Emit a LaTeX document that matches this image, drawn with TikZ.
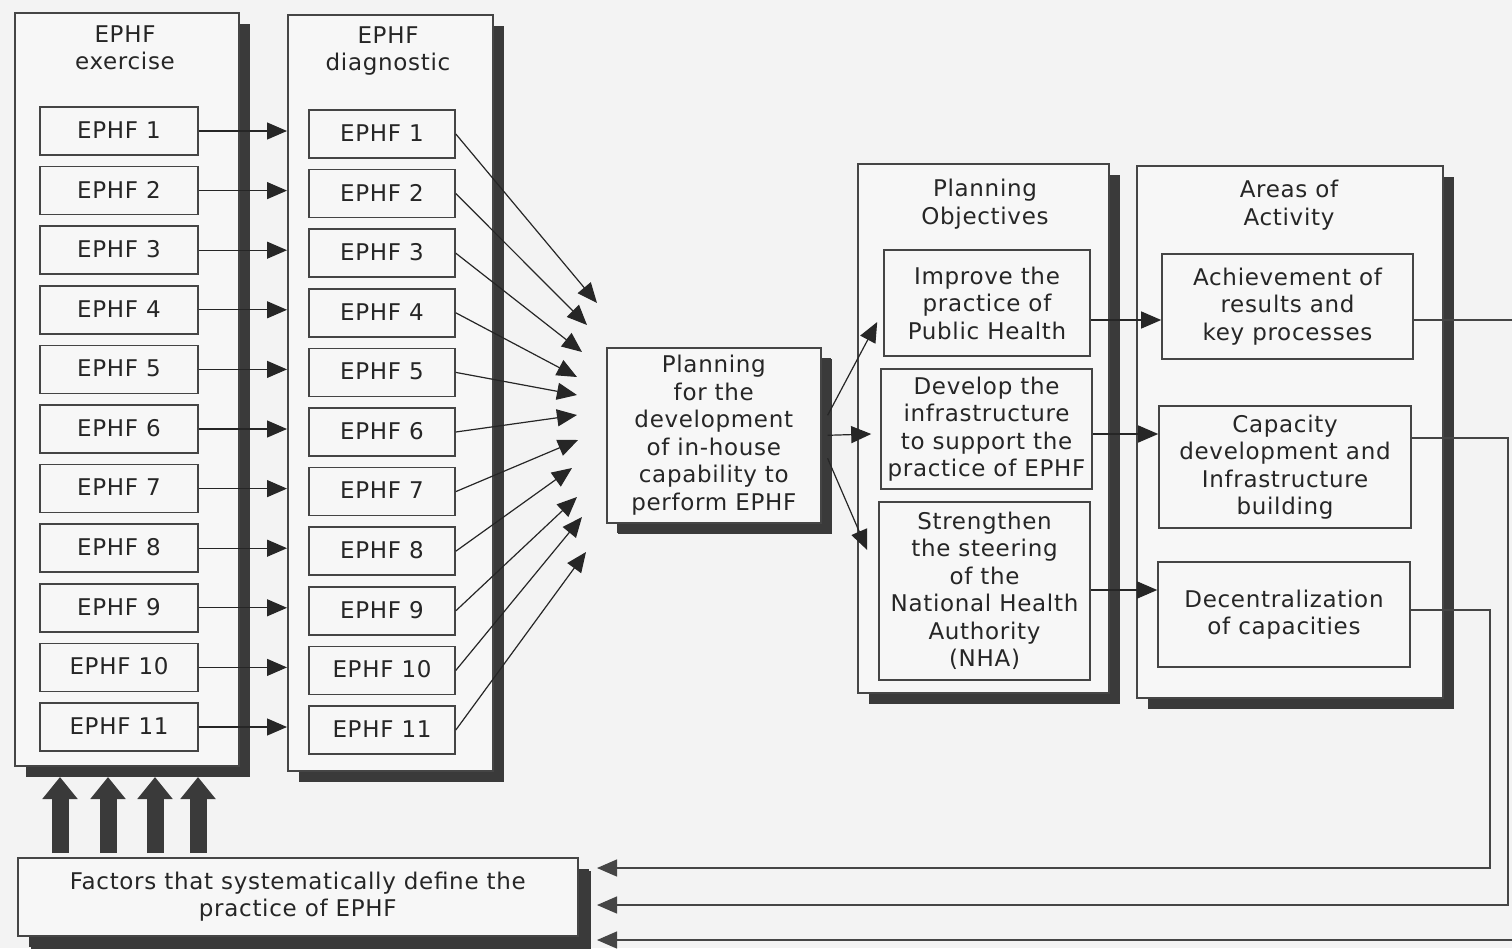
\documentclass[tikz,border=0pt]{standalone}
\usepackage{fontspec}
\setmainfont{DejaVu Sans}[LetterSpace=3]
\usetikzlibrary{arrows.meta,shadows,calc}
\definecolor{bg}{HTML}{F3F3F3}
\definecolor{boxfill}{HTML}{F7F7F7}
\definecolor{ink}{HTML}{262626}
\definecolor{edge}{HTML}{454545}
\definecolor{shade}{HTML}{3A3A3A}
\begin{document}
\begin{tikzpicture}[x=1pt,y=-1pt,
  every node/.style={font=\fontsize{23}{27.5}\selectfont, text=ink, align=center, inner sep=0pt},
  frame/.style={draw=edge, line width=1.6pt, fill=boxfill, anchor=north west,
    general shadow={fill=shade, shadow xshift=11pt, shadow yshift=-11pt}},
  box/.style={draw=edge, line width=1.6pt, fill=boxfill},
  conn/.style={draw=ink, line width=1.2pt, -{Triangle[length=20pt,width=17pt]}},
  fb/.style={draw=edge, line width=1.3pt, -{Triangle[length=20pt,width=17pt]}},
  bigarrow/.style={draw=shade, line width=17pt, -{Triangle[length=22pt,width=34pt]}}
]
\useasboundingbox (0,0) rectangle (1512,948);
\fill[bg] (0,0) rectangle (1512,948);

% frames
\node[frame, minimum width=224pt, minimum height=753pt] (exf) at (14,12) {};
\node[frame, minimum width=205pt, minimum height=756pt] (dgf) at (287,14) {};
\node[frame, minimum width=251pt, minimum height=529pt] (objf) at (857,163) {};
\node[frame, minimum width=306pt, minimum height=532pt] (aref) at (1136,165) {};
\node[frame, minimum width=214pt, minimum height=175pt, general shadow={fill=shade, shadow xshift=10pt, shadow yshift=-10pt}] (plan) at (606,347)
  {Planning\\for the\\development\\of in-house\\capability to\\perform EPHF};
\node[frame, minimum width=560pt, minimum height=78pt, general shadow={fill=shade, shadow xshift=13pt, shadow yshift=-13pt}] (fac) at (17,857)
  {Factors that systematically define the\\practice of EPHF};

% headers
\node (exh) at (125,48) {EPHF\\exercise};
\node (dgh) at (388,51) {EPHF\\diagnostic};
\node (objh) at (985,204) {Planning\\Objectives};
\node (areh) at (1289,205) {Areas of\\Activity};

% EPHF boxes
\foreach \i in {1,...,11} {
  \pgfmathsetmacro{\yy}{131+59.6*(\i-1)}
  \pgfmathsetmacro{\yd}{134+59.6*(\i-1)}
  \node[box, minimum width=158pt, minimum height=48pt] (ex\i) at (119,\yy) {\raisebox{2pt}{EPHF \i}};
  \node[box, minimum width=146pt, minimum height=48pt] (dg\i) at (382,\yd) {\raisebox{2pt}{EPHF \i}};
}

% objectives
\node[box, minimum width=206pt, minimum height=106pt] (imp) at (987,303) {Improve the\\practice of\\Public Health};
\node[box, minimum width=211pt, minimum height=120pt] (dev) at (986.5,429) {Develop the\\infrastructure\\to support the\\practice of EPHF};
\node[box, minimum width=211pt, minimum height=178pt] (str) at (984.5,591) {Strengthen\\the steering\\of the\\National Health\\Authority\\(NHA)};

% areas
\node[box, minimum width=251pt, minimum height=105pt] (ach) at (1287.5,306.5) {Achievement of\\results and\\key processes};
\node[box, minimum width=252pt, minimum height=122pt] (cap) at (1285,467) {Capacity\\development and\\Infrastructure\\building};
\node[box, minimum width=252pt, minimum height=105pt] (dec) at (1284,614.5) {Decentralization\\of capacities};

% exercise -> diagnostic
\foreach \i in {1,...,11} {
  \draw[conn] (ex\i.east) -- (ex\i.east -| dgf.west);
}

% diagnostic -> planning (converging)
\foreach \i/\tx/\ty in {1/597/303,2/587/325,3/582/352,4/577/377,5/577/395,6/577/415,7/578/440,8/572/468,9/577/497,10/582/517,11/586/552} {
  \coordinate (t\i) at (\tx,\ty);
  \draw[conn] (dg\i.east) -- (t\i);
}

% planning -> objectives
\draw[conn] ($(plan.east)+(6,-20)$) -- ($(imp.west)+(-6,19)$);
\draw[conn] ($(plan.east)+(6,0)$) -- ($(dev.west)+(-9,5)$);
\draw[conn] ($(plan.east)+(6,23)$) -- ($(str.west)+(-11,-41)$);

% objectives -> areas
\draw[conn] ($(imp.east)+(0,17)$) -- ($(ach.west)+(0,13.5)$);
\draw[conn] ($(dev.east)+(0,5)$) -- ($(cap.west)+(0,-33)$);
\draw[conn] ($(str.east)+(0,-1)$) -- ($(dec.west)+(0,-24.5)$);

% feedback to factors
\coordinate (f1) at (597,940);
\coordinate (f2) at (597,905);
\coordinate (f3) at (597,868);
\draw[fb] ($(ach.east)+(0,13.5)$) -- (1522,320) -- (1522,940) -- (f1);
\draw[fb] ($(cap.east)+(0,-29)$) -- (1508,438) -- (1508,905) -- (f2);
\draw[fb] ($(dec.east)+(0,-4.5)$) -- (1490,610) -- (1490,868) -- (f3);

% thick arrows from factors to exercise
\foreach \k/\xx in {1/60,2/108,3/155,4/198} {
  \coordinate (ba\k) at (\xx,853);
  \coordinate (bb\k) at (\xx,777);
  \draw[bigarrow] (ba\k) -- (bb\k);
}
\end{tikzpicture}
\end{document}
